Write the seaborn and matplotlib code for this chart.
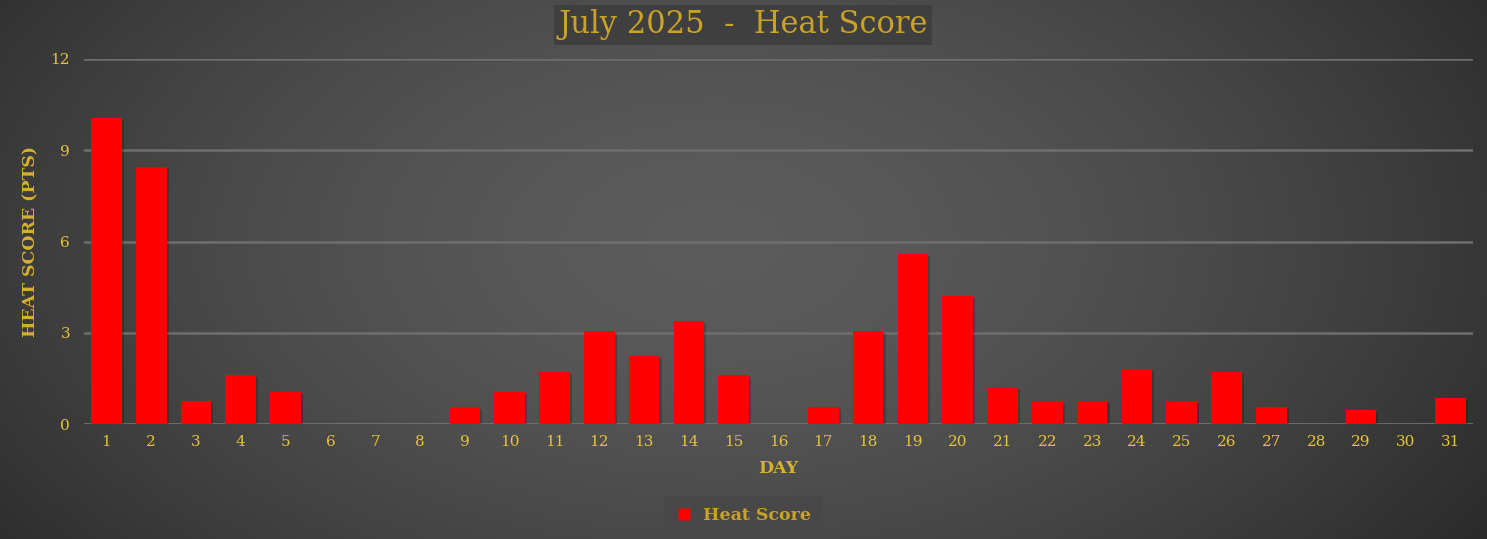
import numpy as np
import pandas as pd
import matplotlib
matplotlib.use("Agg")
import matplotlib.pyplot as plt
from matplotlib.lines import Line2D
import matplotlib.patheffects as pe
import seaborn as sns

days = [str(d) for d in range(1, 32)]
heat_score = [10.05, 8.45, 0.75, 1.6, 1.05, 0, 0, 0, 0.55, 1.05, 1.7, 3.05, 2.25, 3.4, 1.6,
              0, 0.55, 3.05, 5.6, 4.2, 1.2, 0.75, 0.75, 1.8, 0.75, 1.7, 0.55, 0, 0.45, 0, 0.85]
y_ticks = [0, 3, 6, 9, 12]

title = "July 2025  -  Heat Score"
series_name = "Heat Score"

sns.set_style("dark")
plt.rcParams['font.family'] = ['DejaVu Serif']

W, H = 1487, 539
fig = plt.figure(figsize=(W / 100, H / 100), dpi=100)

# radial gradient background
bg = fig.add_axes([0, 0, 1, 1], zorder=-10)
yy, xx = np.mgrid[0:H, 0:W]
r = np.sqrt(((xx - W * 0.48) / (W * 0.62)) ** 2 + ((yy - H * 0.45) / (H * 1.0)) ** 2)
r = np.clip(r, 0, 1)
val = 0.36 - (0.36 - 0.165) * r ** 1.6
img = np.dstack([val, val, val])
bg.imshow(img, aspect='auto', extent=[0, 1, 0, 1], origin='upper')
bg.set_axis_off()

ax = fig.add_axes([84 / W, 1 - 424 / H, (1473 - 84) / W, (424 - 59) / H])
ax.set_facecolor('none')

df = pd.DataFrame({"Day": days, "Heat Score": heat_score})
sns.barplot(data=df, x="Day", y="Heat Score", order=days, color="#ff0000",
            saturation=1, width=0.685, ax=ax, zorder=3)
for p in ax.patches:
    p.set_edgecolor('none')
    p.set_path_effects([pe.SimplePatchShadow(offset=(1.5, -1.5), shadow_rgbFace='black', alpha=0.2), pe.Normal()])

ax.set_ylim(0, 12)
ax.set_xlim(-0.5, 30.5)
ax.set_yticks(y_ticks)
ax.set_yticklabels([str(t) for t in y_ticks])
ax.grid(False)
for t in y_ticks:
    ax.axhline(t, color="#6e6e6e" if t else "#7a7a7a", lw=1.8, zorder=1)
for s in ax.spines.values():
    s.set_visible(False)

tick_col = "#e8c23a"
ax.tick_params(axis='both', length=0, colors=tick_col, labelsize=11)
ax.tick_params(axis='y', pad=10)
ax.tick_params(axis='x', pad=8)

lab_col = "#d6b12e"
ax.set_xlabel("DAY", color=lab_col, fontsize=12.5, fontweight='bold', labelpad=8)
ax.set_ylabel("HEAT SCORE (PTS)", color=lab_col, fontsize=12.5, fontweight='bold', labelpad=8)

fig.text(743 / W, 1 - 25 / H, title, ha='center', va='center', color="#c9a227",
         fontsize=22, bbox=dict(boxstyle='square,pad=0.15', facecolor='#3f3f3f', edgecolor='none'))

handle = Line2D([], [], marker='s', color='none', markerfacecolor='#ff0000',
                markeredgecolor='none', markersize=8)
leg = fig.legend([handle], [series_name], loc='center', bbox_to_anchor=(743 / W, 1 - 516 / H),
                 frameon=True, fancybox=False, facecolor='#484848', edgecolor='none',
                 framealpha=1, handletextpad=0.6, handlelength=1.0, borderpad=0.65,
                 prop={'weight': 'bold', 'size': 12.5})
for t in leg.get_texts():
    t.set_color("#c9a227")

fig.savefig("out.png", dpi=100)
